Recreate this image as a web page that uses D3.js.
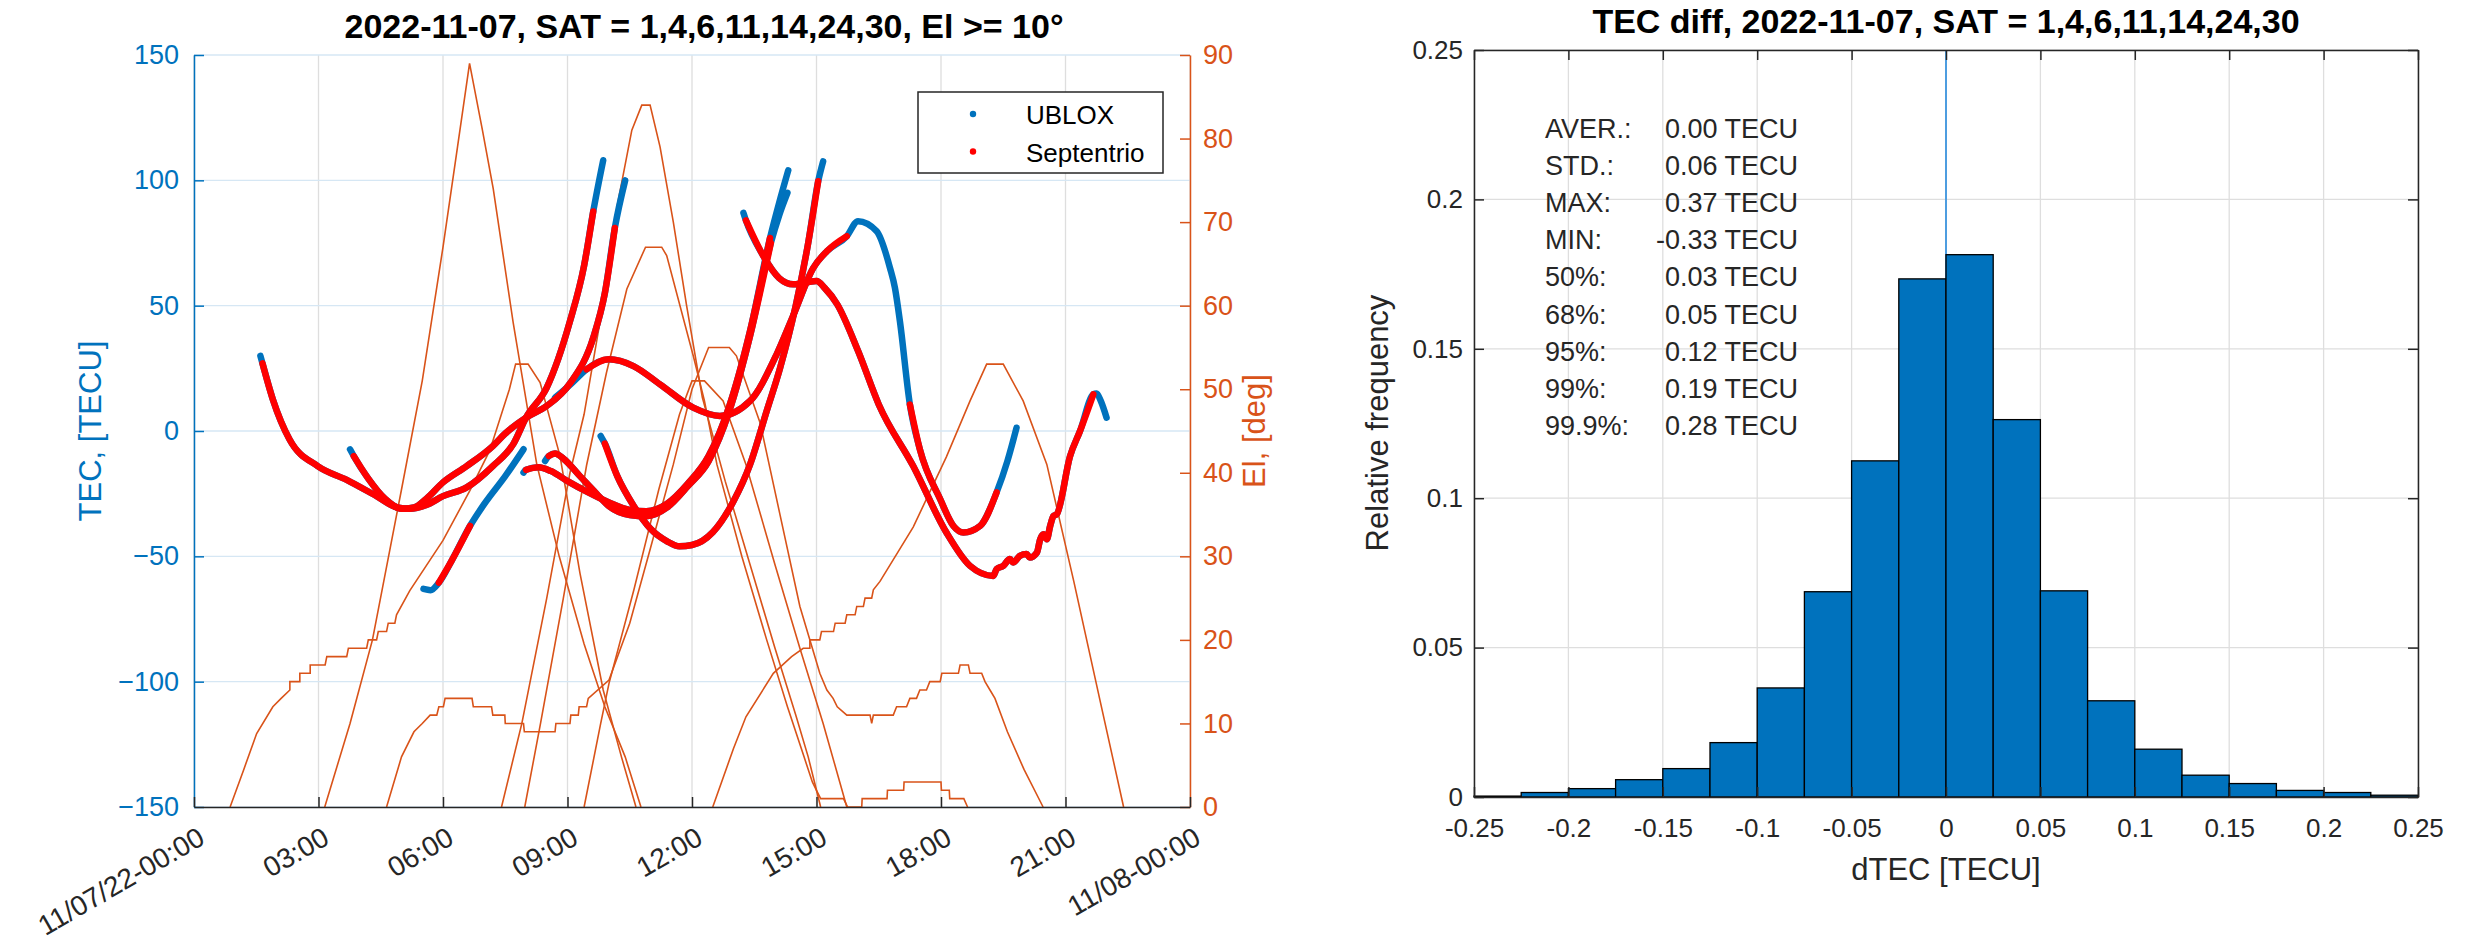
<!DOCTYPE html>
<html>
<head>
<meta charset="utf-8">
<script src="https://cdn.jsdelivr.net/npm/d3@7"></script>
<style>
  body { margin: 0; background: #fff; }
  svg text { font-family: "Liberation Sans", Arial, Helvetica, sans-serif; }
</style>
</head>
<body>
<div id="chart"></div>
<script>
// ---- data ----
// time axis (hours since 2022-11-07 00:00 UTC)
const timeTicks = [0, 3, 6, 9, 12, 15, 18, 21, 24];
const timeLabels = ["11/07/22-00:00", "03:00", "06:00", "09:00", "12:00", "15:00", "18:00", "21:00", "11/08-00:00"];
const tecTicks = [-150, -100, -50, 0, 50, 100, 150];
const elTicks = [0, 10, 20, 30, 40, 50, 60, 70, 80, 90];

// elevation of each satellite [hour, deg] (whole degrees, so slow parts show steps)
const elA = [[0.87,0],[1.2,4.5],[1.51,8.8],[1.9,12],[2.1,13],[2.31,14],[2.31,15],[2.55,15],[2.55,16],[2.8,16],[2.8,17],[3.16,17],[3.2,18],[3.68,18],[3.72,19],[4.16,19],[4.2,20],[4.4,20],[4.44,21],[4.64,21],[4.68,22],[4.84,22],[4.88,23],[5.2,25.9],[6.0,31.9],[6.65,37.9],[7.13,42.7],[7.6,50],[7.75,53],[8.05,53],[8.34,50.8],[8.82,42],[9.3,28],[9.86,14],[10.3,6],[10.65,0]];
const elB = [[3.15,0],[3.76,10],[4.3,20],[5.0,38],[5.5,51],[6.0,67],[6.35,79],[6.64,89],[6.95,81],[7.21,74],[7.69,58],[8.26,41],[8.8,30],[9.4,19.5],[9.9,12],[10.39,6],[10.77,0]];
const elC = [[4.64,0],[5.0,6],[5.3,9],[5.5,10],[5.69,11],[5.85,11],[5.9,12],[6.01,12],[6.05,13],[6.25,13],[6.7,13],[6.73,12],[7.17,12],[7.2,11],[7.49,11],[7.5,10],[7.94,10],[7.96,9],[8.7,9],[8.72,10],[9.06,10],[9.08,11],[9.26,11],[9.28,12],[9.46,12],[9.5,13],[10.0,15.2],[10.5,22],[11.0,31],[11.55,41],[12.0,50],[12.4,55],[12.9,55],[13.07,54],[13.64,46],[14.12,35],[14.6,24],[15.08,16],[15.25,14],[15.4,13],[15.5,12],[15.73,11],[16.29,11],[16.33,10],[16.37,11],[16.85,11],[16.93,12],[17.17,12],[17.25,13],[17.41,13],[17.49,14],[17.65,14],[17.73,15],[17.98,15],[18.02,16],[18.42,16],[18.46,17],[18.66,17],[18.7,16],[18.98,16],[19.06,15],[19.18,14],[19.3,13],[19.6,9],[20.0,4.5],[20.46,0]];
const elD = [[7.41,0],[7.9,10],[8.5,25],[9.06,40],[9.4,47],[9.78,58],[10.2,72],[10.55,81],[10.79,84],[10.99,84],[11.23,79],[11.55,70],[11.87,60],[12.25,49],[12.8,39],[13.4,29],[14.0,19],[14.5,11],[14.8,6],[15.1,0]];
const elE = [[7.97,0],[8.35,10],[8.9,25],[9.46,40.9],[9.94,52],[10.43,62],[10.88,67],[11.27,67],[11.39,66],[12.03,54],[12.3,48.6],[12.6,41],[13.2,30],[13.8,20],[14.3,12],[14.7,6],[14.9,3],[15.0,2],[15.1,1],[15.65,1],[15.75,0],[16.09,0],[16.1,1],[16.7,1],[16.71,2],[17.1,2],[17.11,3],[18.0,3],[18.01,2],[18.2,2],[18.21,1],[18.55,1],[18.64,0]];
const elF = [[9.4,0],[9.8,10],[10.0,14.8],[10.6,26],[11.2,38],[11.7,47],[12.0,51],[12.3,51],[12.75,48.6],[13.3,41],[14.0,29],[14.6,19],[15.16,10],[15.73,0]];
const elG = [[12.5,0],[13.0,7],[13.3,10.8],[13.96,16],[14.4,18],[14.68,19],[14.84,19],[14.84,20],[15.08,20],[15.12,21],[15.41,21],[15.45,22],[15.69,22],[15.73,23],[15.93,23],[15.97,24],[16.13,24],[16.17,25],[16.33,25],[16.37,26],[16.53,27],[17.33,33.5],[18.13,41.9],[18.7,48.6],[19.1,53],[19.5,53],[19.98,48.6],[20.55,41],[21.2,27],[21.83,12.8],[22.4,0]];
const elevation = [elA, elB, elC, elD, elE, elF, elG];

// TEC arcs, UBLOX [hour, TECU]
const arc1 = [[1.6,30],[1.65,27],[1.9,12.6],[2.3,-3.3],[2.98,-14],[3.68,-19.5],[4.4,-26],[4.9,-30.5],[5.2,-31],[5.6,-29.5],[6.0,-26],[6.57,-22.5],[7.2,-14],[7.7,-5],[8.0,5.3],[8.5,17.3],[9.06,43.8],[9.4,66],[9.62,87.6],[9.86,108]];
const arc2 = [[3.76,-7.3],[3.85,-10],[4.2,-19],[4.6,-27],[5.0,-31],[5.3,-30.5],[5.6,-27],[6.0,-20.5],[6.57,-14],[7.2,-6],[7.5,-1],[8.0,5.3],[8.5,10],[9.06,19],[9.62,37.2],[9.9,55],[10.14,81],[10.39,100]];
const arc3 = [[5.53,-63],[5.7,-63.5],[5.9,-60.5],[6.2,-52],[6.65,-37.9],[7.0,-29],[7.5,-18],[7.94,-7.3]];
const arc4 = [[8.7,13.3],[9.1,19],[9.46,24.6],[10.0,28.6],[10.59,25.9],[11.23,18.6],[12.03,9.3],[12.67,6],[13.4,12],[14.04,30.6],[14.45,46.5],[14.92,65],[15.25,71.7],[15.73,77.7],[16.0,83.7],[16.45,79.7],[16.77,65.1],[16.89,57.1],[17.01,43.8],[17.25,10.6],[17.49,-7.3],[17.98,-27.2],[18.3,-37.9],[18.54,-40.5],[18.94,-37.9],[19.34,-24.5],[19.6,-12],[19.82,1.3]];
const arc5 = [[7.94,-16.6],[8.0,-15.5],[8.3,-14.5],[8.6,-16],[9.0,-20],[9.5,-24.5],[10.0,-28.5],[10.5,-31.5],[10.9,-32],[11.4,-29],[11.9,-21],[12.4,-10],[12.9,10],[13.4,40],[13.88,77],[14.1,91],[14.32,104]];
const arc6 = [[8.46,-12],[8.55,-10],[8.7,-9],[8.9,-11],[9.3,-18],[9.7,-25],[10.0,-30],[10.5,-33.5],[10.9,-34],[11.4,-30.5],[11.9,-22],[12.4,-12],[12.9,8],[13.4,38],[13.9,75],[14.1,86],[14.3,95]];
const arc7 = [[9.8,-2],[9.9,-5],[10.2,-18],[10.6,-30],[11.0,-39],[11.4,-44],[11.7,-46],[12.0,-45.5],[12.5,-40.4],[13.0,-28],[13.4,-13.3],[13.8,8],[14.12,25],[14.5,50],[14.8,75],[15.04,99.6],[15.16,107.6]];
const arc8 = [[13.24,87],[13.3,84],[13.7,70.4],[14.1,61],[14.44,58.5],[15.0,59.8],[15.2,57],[15.5,50.5],[16.0,32],[16.5,10.6],[17.33,-14],[18.13,-40.5],[18.7,-53.8],[19.26,-57.8],[19.34,-55.1],[19.5,-53.8],[19.66,-51.1],[19.74,-52.5],[19.9,-49.8],[20.06,-49.1],[20.14,-50.5],[20.31,-48.5],[20.39,-43.2],[20.47,-41.2],[20.55,-43.2],[20.63,-37.9],[20.71,-33.9],[20.79,-33.2],[21.11,-10],[21.35,0],[21.67,14.6],[21.75,15],[21.85,12],[21.99,5.3]];
const ubloxArcs = [arc1, arc2, arc3, arc4, arc5, arc6, arc7, arc8];
// hours where Septentrio has data on each arc
const septRanges = [
  [[1.65, 9.62]],
  [[3.85, 10.14]],
  [[5.9, 6.65]],
  [[9.46, 15.73], [17.25, 19.34]],
  [[8.0, 13.88]],
  [[8.55, 13.9]],
  [[9.9, 15.04]],
  [[13.3, 21.67]]
];

// histogram of dTEC
const binEdges = [-0.25,-0.225,-0.2,-0.175,-0.15,-0.125,-0.1,-0.075,-0.05,-0.025,0,0.025,0.05,0.075,0.1,0.125,0.15,0.175,0.2,0.225,0.25];
const binFreq = [0.0003,0.0015,0.0028,0.0058,0.0095,0.0182,0.0365,0.0687,0.1125,0.1734,0.1815,0.1263,0.069,0.0322,0.016,0.0073,0.0045,0.0022,0.0015,0.0006];
const histXTicks = [-0.25,-0.2,-0.15,-0.1,-0.05,0,0.05,0.1,0.15,0.2,0.25];
const histYTicks = [0, 0.05, 0.1, 0.15, 0.2, 0.25];
const statNames = ["AVER.:", "STD.:", "MAX:", "MIN:", "50%:", "68%:", "95%:", "99%:", "99.9%:"];
const statValues = ["0.00", "0.06", "0.37", "-0.33", "0.03", "0.05", "0.12", "0.19", "0.28"];

// ---- drawing ----
const blue = "#0072BD", orange = "#D95319", red = "#FF0000", ink = "#262626";

const svg = d3.select("#chart").append("svg")
    .attr("width", 2475)
    .attr("height", 948)

const T0 = Date.UTC(2022, 10, 7)
const toDate = h => new Date(T0 + h * 3600e3)

const x = d3.scaleUtc().domain([toDate(0), toDate(24)]).range([194, 1190])
const yTec = d3.scaleLinear().domain([-150, 150]).range([807, 55])
const yEl = d3.scaleLinear().domain([0, 90]).range([807, 55])

// grid
svg.append("g").selectAll("line").data(timeTicks).join("line")
    .attr("x1", d => x(toDate(d))).attr("x2", d => x(toDate(d)))
    .attr("y1", 55).attr("y2", 807)
    .attr("stroke", "#dedede").attr("stroke-width", 1.3)
svg.append("g").selectAll("line").data(tecTicks).join("line")
    .attr("x1", 194).attr("x2", 1190)
    .attr("y1", d => yTec(d)).attr("y2", d => yTec(d))
    .attr("stroke", "#d6e7f4").attr("stroke-width", 1.3)

// elevation
const elLine = d3.line().x(d => x(toDate(d[0]))).y(d => yEl(d[1]))
svg.append("g").selectAll("path").data(elevation).join("path")
    .attr("d", elLine)
    .attr("fill", "none")
    .attr("stroke", orange)
    .attr("stroke-width", 1.6)

// TEC, ublox underneath, septentrio over it
const tecLine = d3.line().x(d => x(toDate(d[0]))).y(d => yTec(d[1])).curve(d3.curveMonotoneX)
svg.append("g").selectAll("path").data(ubloxArcs).join("path")
    .attr("d", tecLine)
    .attr("fill", "none")
    .attr("stroke", blue)
    .attr("stroke-width", 6.5)
    .attr("stroke-linecap", "round")

let septPieces = []
ubloxArcs.forEach((arc, i) => {
    septRanges[i].forEach(r => {
        septPieces.push(arc.filter(p => p[0] >= r[0] && p[0] <= r[1]))
    })
})
svg.append("g").selectAll("path").data(septPieces).join("path")
    .attr("d", tecLine)
    .attr("fill", "none")
    .attr("stroke", red)
    .attr("stroke-width", 6.5)
    .attr("stroke-linecap", "round")

// axes of left plot
const fontTick = 27
const leftAxis = svg.append("g").attr("transform", "translate(194,0)")
    .call(d3.axisLeft(yTec).tickValues(tecTicks).tickSize(-10).tickSizeOuter(0).tickPadding(15))
leftAxis.select(".domain").attr("stroke", blue).attr("stroke-width", 1.5)
leftAxis.selectAll(".tick line").attr("stroke", blue).attr("stroke-width", 1.5)
leftAxis.selectAll("text").attr("fill", blue).style("font-size", fontTick + "px")

const rightAxis = svg.append("g").attr("transform", "translate(1190,0)")
    .call(d3.axisRight(yEl).tickValues(elTicks).tickSize(-10).tickSizeOuter(0).tickPadding(13))
rightAxis.select(".domain").attr("stroke", orange).attr("stroke-width", 1.5)
rightAxis.selectAll(".tick line").attr("stroke", orange).attr("stroke-width", 1.5)
rightAxis.selectAll("text").attr("fill", orange).style("font-size", fontTick + "px")

const bottomAxis = svg.append("g").attr("transform", "translate(0,807)")
    .call(d3.axisBottom(x).tickValues(timeTicks.map(toDate)).tickSize(-10).tickSizeOuter(0)
        .tickFormat((d, i) => timeLabels[i]))
bottomAxis.select(".domain").attr("stroke", ink).attr("stroke-width", 1.5)
bottomAxis.selectAll(".tick line").attr("stroke", ink).attr("stroke-width", 1.5)
bottomAxis.selectAll("text")
    .attr("fill", ink)
    .style("font-size", "28px")
    .attr("text-anchor", "end")
    .attr("x", 0).attr("y", 0).attr("dy", null)
    .attr("transform", "translate(12,36) rotate(-30)")

svg.append("text")
    .attr("transform", "translate(101,431) rotate(-90)")
    .attr("text-anchor", "middle")
    .attr("fill", blue)
    .style("font-size", "31px")
    .text("TEC, [TECU]")

svg.append("text")
    .attr("transform", "translate(1265,431) rotate(-90)")
    .attr("text-anchor", "middle")
    .attr("fill", orange)
    .style("font-size", "31px")
    .text("El, [deg]")

svg.append("text")
    .attr("x", 704).attr("y", 38)
    .attr("text-anchor", "middle")
    .attr("fill", "#000")
    .style("font-size", "34px").style("font-weight", "bold")
    .text("2022-11-07, SAT = 1,4,6,11,14,24,30, El >= 10°")

// legend
const legend = svg.append("g")
legend.append("rect")
    .attr("x", 918).attr("y", 92).attr("width", 245).attr("height", 81)
    .attr("fill", "#fff").attr("stroke", ink).attr("stroke-width", 1.5)
const legendItems = [["UBLOX", blue], ["Septentrio", red]]
legend.selectAll("circle").data(legendItems).join("circle")
    .attr("cx", 973).attr("cy", (d, i) => 114 + i * 37.5)
    .attr("r", 3.2).attr("fill", d => d[1])
legend.selectAll("text").data(legendItems).join("text")
    .attr("x", 1026).attr("y", (d, i) => 124 + i * 37.5)
    .attr("fill", "#000")
    .style("font-size", "26px")
    .text(d => d[0])

// ---- histogram ----
const xH = d3.scaleLinear().domain([-0.25, 0.25]).range([1474, 2418])
const yH = d3.scaleLinear().domain([0, 0.25]).range([797, 50])

svg.append("g").selectAll("line").data(histXTicks).join("line")
    .attr("x1", d => xH(d)).attr("x2", d => xH(d))
    .attr("y1", 50).attr("y2", 797)
    .attr("stroke", "#dedede").attr("stroke-width", 1.3)
svg.append("g").selectAll("line").data(histYTicks).join("line")
    .attr("x1", 1474).attr("x2", 2418)
    .attr("y1", d => yH(d)).attr("y2", d => yH(d))
    .attr("stroke", "#dedede").attr("stroke-width", 1.3)

svg.append("line")
    .attr("x1", xH(0)).attr("x2", xH(0))
    .attr("y1", yH(0.25)).attr("y2", yH(0))
    .attr("stroke", "#4d9de0").attr("stroke-width", 2)

svg.append("g").selectAll("rect").data(binFreq).join("rect")
    .attr("x", (d, i) => xH(binEdges[i]))
    .attr("width", (d, i) => xH(binEdges[i + 1]) - xH(binEdges[i]))
    .attr("y", d => yH(d))
    .attr("height", d => yH(0) - yH(d))
    .attr("fill", blue)
    .attr("stroke", "#000")
    .attr("stroke-width", 1.3)

const hAxes = [
    svg.append("g").attr("transform", "translate(0,797)")
        .call(d3.axisBottom(xH).tickValues(histXTicks).tickSize(-10).tickSizeOuter(0).tickPadding(22).tickFormat(d3.format("~g"))),
    svg.append("g").attr("transform", "translate(1474,0)")
        .call(d3.axisLeft(yH).tickValues(histYTicks).tickSize(-10).tickSizeOuter(0).tickPadding(11).tickFormat(d3.format("~g"))),
    svg.append("g").attr("transform", "translate(0,50)")
        .call(d3.axisTop(xH).tickValues(histXTicks).tickSize(-10).tickSizeOuter(0).tickFormat("")),
    svg.append("g").attr("transform", "translate(2418,0)")
        .call(d3.axisRight(yH).tickValues(histYTicks).tickSize(-10).tickSizeOuter(0).tickFormat(""))
]
hAxes.forEach(g => {
    g.select(".domain").attr("stroke", ink).attr("stroke-width", 1.5)
    g.selectAll(".tick line").attr("stroke", ink).attr("stroke-width", 1.5)
    g.selectAll("text").attr("fill", ink).style("font-size", "26px")
})
// d3 prints a minus sign, matlab uses a hyphen
hAxes[0].selectAll("text").text(d => String(d))

svg.append("text")
    .attr("x", 1946).attr("y", 880)
    .attr("text-anchor", "middle")
    .attr("fill", ink)
    .style("font-size", "31px")
    .text("dTEC [TECU]")

svg.append("text")
    .attr("transform", "translate(1388,423) rotate(-90)")
    .attr("text-anchor", "middle")
    .attr("fill", ink)
    .style("font-size", "31px")
    .text("Relative frequency")

svg.append("text")
    .attr("x", 1946).attr("y", 33)
    .attr("text-anchor", "middle")
    .attr("fill", "#000")
    .style("font-size", "34px").style("font-weight", "bold")
    .text("TEC diff, 2022-11-07, SAT = 1,4,6,11,14,24,30")

const stats = svg.append("g")
stats.selectAll("text.name").data(statNames).join("text")
    .attr("class", "name")
    .attr("x", 1545).attr("y", (d, i) => 138 + i * 37.1)
    .attr("fill", ink)
    .style("font-size", "27px")
    .text(d => d)
stats.selectAll("text.val").data(statValues).join("text")
    .attr("class", "val")
    .attr("x", 1798).attr("y", (d, i) => 138 + i * 37.1)
    .attr("text-anchor", "end")
    .attr("fill", ink)
    .style("font-size", "27px")
    .text(d => d + " TECU")
</script>
</body>
</html>
